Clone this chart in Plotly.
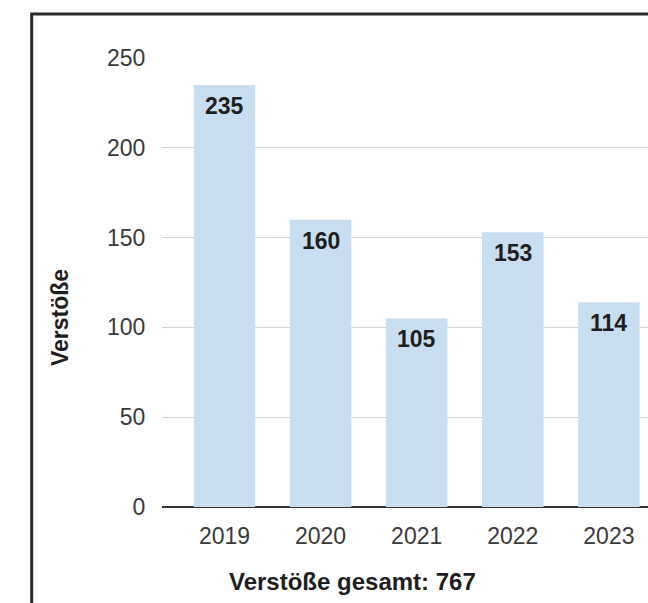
import plotly.graph_objects as go

# Data
years = ["2019", "2020", "2021", "2022", "2023"]
violations = [235, 160, 105, 153, 114]
y_ticks = [0, 50, 100, 150, 200, 250]
total = sum(violations)

W, H = 648, 603
M_L, M_R, M_T, M_B = 162, 0, 58, 96
plot_w = W - M_L - M_R
plot_h = H - M_T - M_B


def px_x(p):
    return (p - M_L) / plot_w


def px_y(p):
    return (H - M_B - p) / plot_h


FONT = "Arial, Liberation Sans, sans-serif"

fig = go.Figure(
    go.Bar(
        x=years,
        y=violations,
        width=0.64,
        marker=dict(color="#c9ddf1", line=dict(width=0)),
        hoverinfo="x+y",
    )
)

# value labels just inside the top of each bar (x given as category index)
for i, v in enumerate(violations):
    fig.add_annotation(
        x=i, y=v, xref="x", yref="y",
        text=f"<b>{v}</b>", showarrow=False,
        yanchor="middle", yshift=-21,
        font=dict(family=FONT, size=23, color="#1e1e1e"),
    )

# axis titles
fig.add_annotation(
    x=px_x(60), y=px_y(318), xref="paper", yref="paper",
    text="<b>Verstöße</b>", textangle=-90, showarrow=False,
    xanchor="center", yanchor="middle",
    font=dict(family=FONT, size=23, color="#1e1e1e"),
)
fig.add_annotation(
    x=px_x(352), y=px_y(581), xref="paper", yref="paper",
    text=f"<b>Verstöße gesamt: {total}</b>", showarrow=False,
    xanchor="center", yanchor="middle",
    font=dict(family=FONT, size=24, color="#1e1e1e"),
)

# frame around the chart
fig.add_shape(
    type="rect", xref="paper", yref="paper",
    x0=px_x(31.7), x1=px_x(W + 40), y0=px_y(H + 40), y1=px_y(14),
    line=dict(color="#2a2a2a", width=3), fillcolor="rgba(0,0,0,0)",
    layer="above",
)

fig.update_layout(
    width=W, height=H,
    margin=dict(l=M_L, r=M_R, t=M_T, b=M_B, pad=0),
    paper_bgcolor="white", plot_bgcolor="white",
    showlegend=False,
    bargap=0.36,
    font=dict(family=FONT, color="#3a3a3a"),
)
fig.update_xaxes(
    type="category",
    range=[-0.65, 4.407],
    showgrid=False, showline=False, zeroline=False,
    ticks="outside", ticklen=8, tickcolor="rgba(0,0,0,0)",
    tickfont=dict(family=FONT, size=23, color="#3a3a3a"),
)
fig.update_yaxes(
    range=[0, 250],
    tickvals=y_ticks,
    showgrid=True, gridcolor="#d4d4d4", gridwidth=1,
    zeroline=True, zerolinecolor="#333333", zerolinewidth=2,
    showline=False,
    ticks="outside", ticklen=11, tickcolor="rgba(0,0,0,0)",
    tickfont=dict(family=FONT, size=23, color="#3a3a3a"),
)

fig.write_html("out.html")
